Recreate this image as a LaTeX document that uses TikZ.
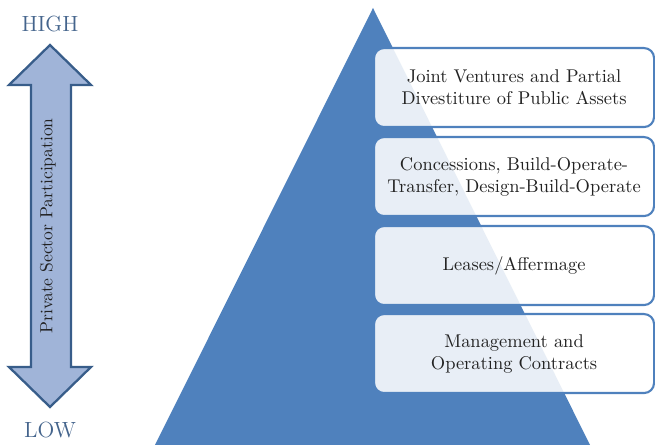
\documentclass[tikz,border=0pt]{standalone}
\usepackage{tikz}
\usetikzlibrary{positioning}

\definecolor{pyrblue}{RGB}{79,129,189}
\definecolor{arrowfill}{RGB}{160,180,216}
\definecolor{arrowline}{RGB}{56,93,138}
\definecolor{scaletext}{RGB}{68,100,140}
\definecolor{boxtext}{RGB}{34,34,34}

\begin{document}
\begin{tikzpicture}[
	stagebox/.style={draw=pyrblue, line width=1.2pt, fill=white, fill opacity=0.87, text opacity=1,
		rounded corners=0.2cm, minimum width=5.6cm, minimum height=1.58cm, anchor=north west,
		align=center, text=boxtext, font=\fontsize{10.5}{12.5}\selectfont},
	scalelabel/.style={text=scaletext, font=\fontsize{12.5}{14}\selectfont}
	]
	\useasboundingbox (0,0) rectangle (13.1,8.9);
	
	% pyramid
	\path [fill=pyrblue] (3.1,0) -- (7.46,8.74) -- (11.8,0) -- cycle;
	
	% double arrow
	\draw [line width=1.3pt, line join=miter, draw=arrowline, fill=arrowfill]
		(1.0,8.0) -- (1.82,7.2) -- (1.42,7.2) -- (1.42,1.56) -- (1.82,1.56) -- (1.0,0.76)
		-- (0.18,1.56) -- (0.62,1.56) -- (0.62,7.2) -- (0.18,7.2) -- cycle;
	\node [rotate=90, text=boxtext, font=\fontsize{10}{12}\selectfont] (psp) at (0.96,4.38) {Private Sector Participation};
	
	\node [scalelabel] (high) at (1.0,8.42) {HIGH};
	\node [scalelabel] (low) at (1.0,0.3) {LOW};
	
	% stages
	\node [stagebox] (joint) at (7.46,7.96) {Joint Ventures and Partial\\Divestiture of Public Assets};
	\node [stagebox] (concess) at (7.46,6.18) {Concessions, Build-Operate-\\Transfer, Design-Build-Operate};
	\node [stagebox] (lease) at (7.46,4.40) {Leases/Affermage};
	\node [stagebox] (manage) at (7.46,2.64) {Management and\\Operating Contracts};
\end{tikzpicture}
\end{document}
